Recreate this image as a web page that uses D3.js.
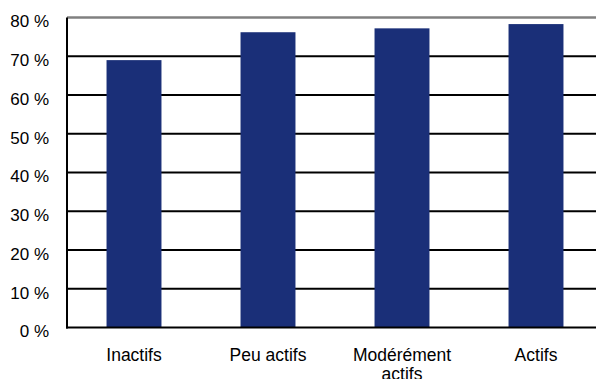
<!DOCTYPE html>
<html>
<head>
<meta charset="utf-8">
<script src="https://cdn.jsdelivr.net/npm/d3@7"></script>
<style>
  html, body { margin: 0; padding: 0; background: #fff; }
  svg { display: block; font-family: "Liberation Sans", Arial, sans-serif; }
</style>
</head>
<body>
<svg id="chart" width="596" height="379"></svg>
<script>
// Share per activity level (percent)
const categories = ["Inactifs", "Peu actifs", "Modérément actifs", "Actifs"];
const values = [69.0, 76.2, 77.2, 78.3];
const yTicks = [0, 10, 20, 30, 40, 50, 60, 70, 80];

const svg = d3.select("#chart");
const plotLeft = 67, plotRight = 603, plotTop = 17.5, plotBottom = 327.5;

const x = d3.scaleBand()
  .domain(categories)
  .range([plotLeft, plotRight])
  .paddingInner(0.59)
  .paddingOuter(0.295);

const y = d3.scaleLinear().domain([0, 80]).range([plotBottom, plotTop]);

// Horizontal gridlines; the top one is the plot frame in grey
svg.append("g")
  .selectAll("line")
  .data(yTicks.filter(d => d > 0))
  .join("line")
  .attr("x1", plotLeft).attr("x2", plotRight)
  .attr("y1", d => y(d)).attr("y2", d => y(d))
  .attr("stroke", d => d === 80 ? "#808080" : "#000")
  .attr("stroke-width", d => d === 80 ? 2.5 : 1.8);

// Bars
svg.append("g")
  .selectAll("rect")
  .data(values)
  .join("rect")
  .attr("x", (d, i) => x(categories[i]))
  .attr("width", x.bandwidth())
  .attr("y", d => y(d))
  .attr("height", d => y(0) - y(d))
  .attr("fill", "#1a2f78");

// Left axis
const yAxis = d3.axisLeft(y)
  .tickValues(yTicks)
  .tickSize(0)
  .tickPadding(18)
  .tickFormat(d => d + " %");
const gy = svg.append("g").attr("transform", `translate(${plotLeft},0)`).call(yAxis);
gy.select(".domain").remove();
gy.selectAll("text")
  .attr("dy", "0.55em")
  .attr("font-size", 17)
  .attr("font-family", "Liberation Sans, Arial, sans-serif")
  .attr("fill", "#000");

svg.append("line")
  .attr("x1", plotLeft).attr("x2", plotLeft)
  .attr("y1", plotTop).attr("y2", plotBottom + 1)
  .attr("stroke", "#000").attr("stroke-width", 2);

// Bottom axis
svg.append("line")
  .attr("x1", plotLeft - 1).attr("x2", plotRight)
  .attr("y1", plotBottom).attr("y2", plotBottom)
  .attr("stroke", "#000").attr("stroke-width", 2);

const xAxis = d3.axisBottom(x).tickSize(0).tickPadding(0);
const gx = svg.append("g").attr("transform", `translate(0,${plotBottom})`).call(xAxis);
gx.select(".domain").remove();
gx.selectAll("text").remove();
gx.selectAll(".tick").each(function(d) {
  const words = d === "Modérément actifs" ? ["Modérément", "actifs"] : [d];
  const t = d3.select(this).append("text")
    .attr("text-anchor", "middle")
    .attr("font-size", 17.5)
    .attr("font-family", "Liberation Sans, Arial, sans-serif")
    .attr("fill", "#000");
  words.forEach((w, i) => {
    t.append("tspan").attr("x", 0).attr("y", 33.5 + i * 19).text(w);
  });
});
</script>
</body>
</html>
